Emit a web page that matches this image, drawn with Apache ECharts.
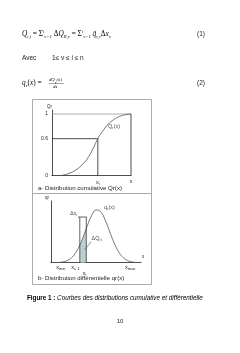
<!DOCTYPE html>
<html><head><meta charset="utf-8">
<script src="https://cdn.jsdelivr.net/npm/echarts@6/dist/echarts.min.js"></script>
<style>html,body{margin:0;padding:0;background:#fff}#c{width:240px;height:353px}</style>
</head><body><div id="c"></div>
<script>
// ---- (a) cumulative distribution Qr(x) ----
const cumX = [10, 20, 30, 40, 46, 52, 58, 64, 70, 76, 82, 90, 100];
const cumQ = [0, 0.03, 0.09, 0.2, 0.3, 0.44, 0.6, 0.72, 0.82, 0.89, 0.94, 0.98, 1.0];
const cumXi = 58, cumQi = 0.6, cumXEnd = 100, cumQEnd = 1;
const cumYTicks = [0, 0.6, 1];
const cumYTickLabels = ['0', '0.6', '1'];
const cumXTicks = [58, 100];
const cumXTickLabels = ['{x|x}{s|i}', '{x|x}'];
const cumNotes = [[71, 0.8, '{x|Q}{s|r}{x|(x)}']];
// ---- (b) differential distribution qr(x) ----
const difX = [4, 10, 15, 20, 25, 30, 35, 40, 45, 50, 55, 60, 65, 70, 75, 80, 85, 90, 97];
const difQ = [0, 0.006, 0.018, 0.049, 0.113, 0.225, 0.39, 0.585, 0.76, 0.854, 0.83, 0.70, 0.51, 0.325, 0.18, 0.085, 0.035, 0.012, 0];
const binX = [32, 34, 36, 38, 39.2];
const binQ = [0.286, 0.35, 0.43, 0.51, 0.553];
const binLeft = 32, binRight = 39.2, bracketQ = 0.74, bracketFrom = 30, bracketTo = 39.5;
const leaderX = [44.7, 37.4], leaderQ = [0.34, 0.21];
const difXTicks = [11, 27, 37.4, 88];
const difXTickLabels = ['{x|x}{s|min}', '{x|x}{s|i- 1}', '{lo|x}{los|i}', '{x|x}{s|max}'];
const difNotes = [[59, 0.89, '{x|q}{s|r}{x|(x)}'], [21, 0.8, '{x|Δx}{s|i}'], [45, 0.4, '{x|ΔQ}{s|ri}']];

const F = 'Liberation Sans, Arial, sans-serif';
const lblRich = {
  x: {fontSize: 5.5, fontFamily: F, color: '#222'},
  s: {fontSize: 4, fontFamily: F, color: '#222', verticalAlign: 'bottom', padding: [3, 0, 0, 0]},
  lo: {fontSize: 5.5, fontFamily: F, color: '#222', padding: [6, 0, 0, 0]},
  los: {fontSize: 4, fontFamily: F, color: '#222', padding: [9, 0, 0, 0]}
};
const axisCol = '#222';
function pts(xs, ys) { return xs.map((v, i) => [v, ys[i]]); }

const chart = echarts.init(document.getElementById('c'), null, {renderer: 'canvas'});
const eqRich = {
  m: {fontSize: 7.3, fontFamily: 'Liberation Serif, serif', fontStyle: 'italic', color: '#222', lineHeight: 10},
  n: {fontSize: 7.3, fontFamily: 'Liberation Serif, serif', color: '#222', lineHeight: 10},
  sb: {fontSize: 4.7, fontFamily: 'Liberation Serif, serif', fontStyle: 'italic', color: '#222', verticalAlign: 'bottom', lineHeight: 10, padding: [4, 0, 0, 0]},
  sp: {fontSize: 4.7, fontFamily: 'Liberation Serif, serif', fontStyle: 'italic', color: '#222', padding: [0, 0, 4, 0]},
  fr: {fontSize: 4.7, fontFamily: 'Liberation Serif, serif', fontStyle: 'italic', color: '#222'}
};
const txt = (x, y, text, style) => ({type: 'text', x, y, style: Object.assign({text, fill: '#222', font: '6.5px ' + F, verticalAlign: 'middle'}, style)});

chart.setOption({
  backgroundColor: '#fff',
  animation: false,
  grid: [
    {left: 52, top: 110, width: 79, height: 65.7},
    {left: 51, top: 201, width: 90, height: 61.7}
  ],
  xAxis: [
    {gridIndex: 0, type: 'value', min: 0, max: 100, splitLine: {show: false}, axisTick: {show: false},
     axisLine: {lineStyle: {color: axisCol, width: 0.8}},
     axisLabel: {customValues: cumXTicks, margin: 3, formatter: v => cumXTickLabels[cumXTicks.indexOf(v)], rich: lblRich}},
    {gridIndex: 1, type: 'value', min: 0, max: 100, splitLine: {show: false}, axisTick: {show: false},
     name: 'x', nameLocation: 'end', nameGap: 1, nameTextStyle: {fontSize: 4.5, fontFamily: F, color: '#222', verticalAlign: 'bottom', padding: [0, 0, 3, 0]},
     axisLine: {lineStyle: {color: axisCol, width: 0.8}},
     axisLabel: {customValues: difXTicks, margin: 1, formatter: v => difXTickLabels[difXTicks.indexOf(v)], rich: lblRich}}
  ],
  yAxis: [
    {gridIndex: 0, type: 'value', min: 0, max: 1.065, splitLine: {show: false}, axisTick: {show: false},
     name: 'Qr', nameLocation: 'end', nameGap: 1, nameTextStyle: {fontSize: 4.5, fontFamily: F, color: '#222', align: 'right', padding: [0, 0, 0, 0]},
     axisLine: {show: true, lineStyle: {color: axisCol, width: 0.8}},
     axisLabel: {customValues: cumYTicks, margin: 4, fontSize: 5, fontFamily: F, color: '#222', formatter: v => cumYTickLabels[cumYTicks.indexOf(v)]}},
    {gridIndex: 1, type: 'value', min: 0, max: 1, splitLine: {show: false}, axisTick: {show: false},
     name: 'qr', nameLocation: 'end', nameGap: 1, nameTextStyle: {fontSize: 4.5, fontFamily: F, color: '#222', align: 'right', padding: [0, 2, 0, 0]},
     axisLine: {show: true, lineStyle: {color: axisCol, width: 0.8}},
     axisLabel: {show: false}}
  ],
  series: [
    {type: 'line', xAxisIndex: 0, yAxisIndex: 0, data: [[0, cumQEnd], [cumXEnd, cumQEnd]], symbol: 'none', lineStyle: {color: '#999', width: 0.8}},
    {type: 'line', xAxisIndex: 0, yAxisIndex: 0, data: [[0, cumQi], [cumXi, cumQi], [cumXi, 0]], symbol: 'none', lineStyle: {color: '#222', width: 0.8}},
    {type: 'line', xAxisIndex: 0, yAxisIndex: 0, data: [[cumXEnd, cumQEnd], [cumXEnd, 0]], symbol: 'none', lineStyle: {color: '#222', width: 0.8}},
    {type: 'line', xAxisIndex: 0, yAxisIndex: 0, data: pts(cumX, cumQ), smooth: 0.4, symbol: 'none', lineStyle: {color: '#555', width: 0.8}},
    {type: 'scatter', xAxisIndex: 0, yAxisIndex: 0, data: cumNotes, symbolSize: 0,
     label: {show: true, position: 'right', distance: 0, formatter: p => p.data[2], rich: lblRich}},
    {type: 'line', xAxisIndex: 1, yAxisIndex: 1, data: pts(binX, binQ), symbol: 'none', lineStyle: {width: 0}, areaStyle: {color: '#bcd0cf', opacity: 1}},
    {type: 'line', xAxisIndex: 1, yAxisIndex: 1, data: pts(difX, difQ), smooth: 0.4, symbol: 'none', lineStyle: {color: '#555', width: 0.8}},
    {type: 'line', xAxisIndex: 1, yAxisIndex: 1, data: [[binLeft, 0], [binLeft, bracketQ]], symbol: 'none', lineStyle: {color: '#222', width: 0.7}},
    {type: 'line', xAxisIndex: 1, yAxisIndex: 1, data: [[binRight, 0], [binRight, bracketQ]], symbol: 'none', lineStyle: {color: '#222', width: 0.7}},
    {type: 'line', xAxisIndex: 1, yAxisIndex: 1, data: [[bracketFrom, bracketQ], [bracketTo, bracketQ]], symbol: 'none', lineStyle: {color: '#222', width: 0.7}},
    {type: 'line', xAxisIndex: 1, yAxisIndex: 1, data: pts(leaderX, leaderQ), symbol: 'none', lineStyle: {color: '#444', width: 0.6}},
    {type: 'scatter', xAxisIndex: 1, yAxisIndex: 1, data: difNotes, symbolSize: 0,
     label: {show: true, position: 'right', distance: 0, formatter: p => p.data[2], rich: lblRich}}
  ],
  graphic: [
    {type: 'text', x: 22, y: 34, style: {text: '{m|Q}{sb|r,i}{n| = Σ}{sp|i}{sb|v=1}{n| Δ}{m|Q}{sb|R,v}{n| = Σ}{sp|i}{sb|v=1}{m| q̄}{sb|r,v}{n|Δ}{m|x}{sb|v}', rich: eqRich, verticalAlign: 'middle'}},
    txt(197, 34, '(1)'),
    txt(22, 58, 'Avec'),
    txt(52, 58, '1≤ v ≤ i ≤ n'),
    {type: 'text', x: 22, y: 83, style: {text: '{m|q}{sb|r}{n|(}{m|x}{n|) = }', rich: eqRich, verticalAlign: 'middle'}},
    {type: 'text', x: 49, y: 80, style: {text: '{fr|dQ}{sb|r}{fr|(x)}', rich: eqRich, verticalAlign: 'middle'}},
    {type: 'line', shape: {x1: 49, y1: 83.5, x2: 64, y2: 83.5}, style: {stroke: '#222', lineWidth: 0.4}},
    {type: 'text', x: 53, y: 87, style: {text: '{fr|dx}', rich: eqRich, verticalAlign: 'middle'}},
    txt(197, 83, '(2)'),
    {type: 'rect', shape: {x: 32.5, y: 99.5, width: 119, height: 185}, style: {fill: 'none', stroke: '#aaa', lineWidth: 1}},
    {type: 'line', shape: {x1: 32.5, y1: 193.5, x2: 151.5, y2: 193.5}, style: {stroke: '#aaa', lineWidth: 1}},
    txt(38, 188, 'a- Distribution cumulative Qr(x)', {font: '6.1px ' + F}),
    txt(38, 278, 'b- Distribution différentielle qr(x)', {font: '6.1px ' + F}),
    {type: 'text', x: 27, y: 298, style: {text: '{b|Figure 1 :}{i| Courbes des distributions cumulative et différentielle}', verticalAlign: 'middle',
      rich: {b: {fontSize: 6.3, fontWeight: 'bold', fontFamily: F, color: '#111'}, i: {fontSize: 6.3, fontStyle: 'italic', fontFamily: F, color: '#222'}}}},
    txt(120, 321, '10', {font: '6px ' + F, align: 'center'})
  ]
});
</script></body></html>
